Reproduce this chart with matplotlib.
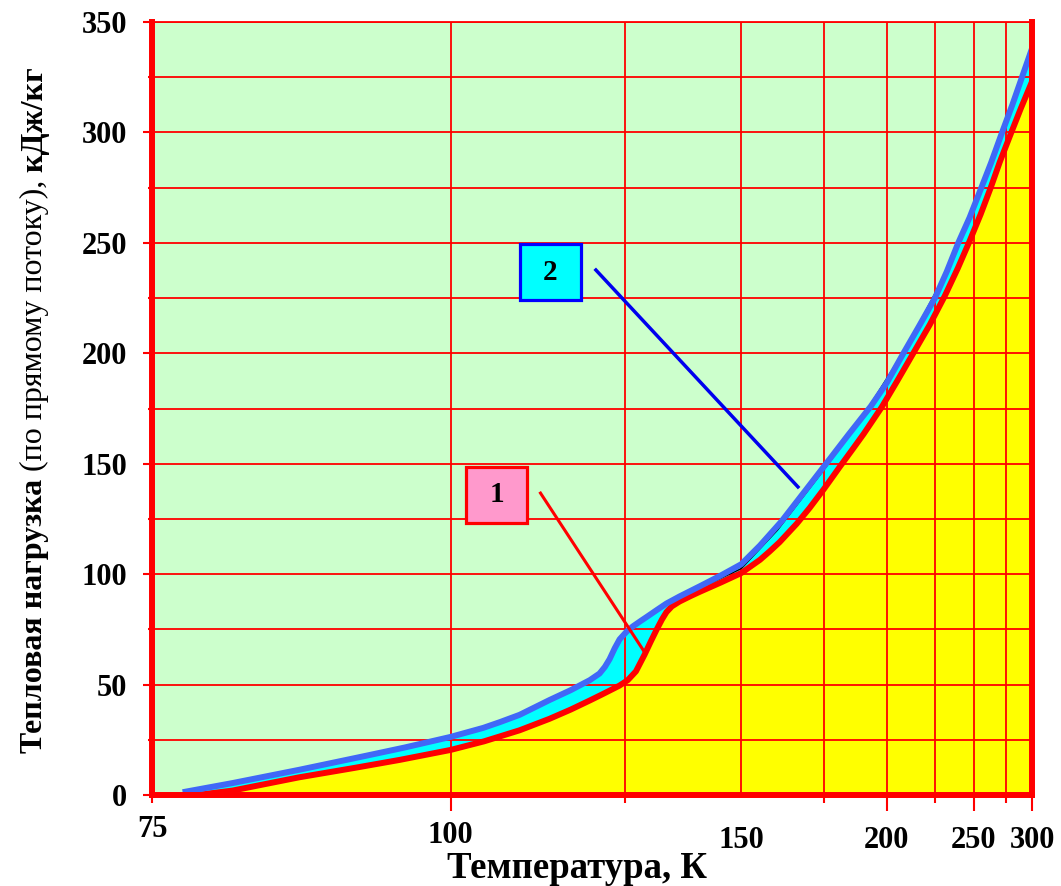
import numpy as np
import matplotlib
matplotlib.use('Agg')
import matplotlib.pyplot as plt
from matplotlib.patches import Rectangle
from matplotlib.transforms import IdentityTransform

# data: temperature (K) vs heat load (kJ/kg)
# curve 1 (red)
T_red = [77.5, 80, 85.2, 90, 94.5, 100, 104, 108.6, 112.8, 116, 119, 121, 124,
         125.5, 127, 128.6, 129.8, 130.9, 132, 132.9, 134, 135.6, 138, 140, 145,
         150, 155, 157.7, 160.6, 165.8, 170, 175, 180.6, 186, 190, 197.7, 205,
         213, 222, 230.8, 239, 246.8, 255, 262.7, 270, 278.9, 289, 300]
load_red = [0, 2, 8, 12.2, 15.9, 20.4, 24.3, 29.3, 34.5, 38.7, 42.8, 45.5, 49.5,
            52, 56, 63.5, 69.5, 74.7, 79.5, 82.8, 85.4, 87.6, 90.1, 92, 96.3,
            100.5, 106.5, 110.3, 114.5, 122.8, 130, 138.8, 148.6, 157.3, 163.5,
            175.5, 187.5, 200, 213, 226, 238.5, 250.5, 263, 275, 286.5, 298.5,
            311, 323]

# curve 2 (blue)
T_blue = [76.7, 80, 85.2, 91.2, 95, 100, 103.9, 106, 108.6, 112.8, 116, 119,
          120.6, 121.5, 122.3, 123.2, 124.05, 125.3, 126.4, 128, 129, 131, 132.9,
          135.6, 140, 145, 150, 155, 161.2, 168, 175.5, 184, 193, 200, 208, 216,
          224.9, 232, 239.3, 247, 255.5, 263, 272, 281, 290, 300]
load_blue = [1.5, 5.4, 11.4, 17.8, 21.5, 26.3, 30.4, 33, 36.3, 43, 47.5, 52,
             55, 58, 61.5, 66.5, 70.5, 74, 76.3, 79, 80.6, 83.8, 86.7,
             89.9, 94.5, 99.5, 104.5, 113, 124, 136.8, 149.8, 163.3, 176, 186.5,
             200, 212.2, 225, 237, 250, 261.5, 275, 286.3, 300, 312.5, 325, 338]

# thin black curve, mostly hidden under curve 2
T_black = [142, 150, 160, 175, 190, 210, 230, 250, 262]
load_black = [95.5, 102.5, 120, 147.5, 172, 203.5, 234.5, 265, 285]

# axis ticks
x_major = [100, 200, 250, 300]
x_minor = [74.5, 125, 150, 175, 225, 275]
x_minor_labels = ['75', '', '150', '', '', '']

# callouts: (T, load) of leader start / end
lead1 = ([111.5, 128.6], [136.7, 64.7])
lead2 = ([120.0, 166.2], [237.7, 139.5])

plt.rcParams['font.family'] = ['Liberation Serif', 'DejaVu Serif']
plt.rcParams['font.weight'] = 'bold'

W, H = 1061, 886
fig = plt.figure(figsize=(W / 100, H / 100), dpi=100)
ax = fig.add_axes([152 / W, 91 / H, 880 / W, 773 / H])
ax.set_facecolor('#CCFFCC')


def fwd(t):
    return -1.0 / np.asarray(t, dtype=float)


def back(u):
    return -1.0 / np.asarray(u, dtype=float)


ax.set_xscale('function', functions=(fwd, back))
ax.set_xlim(74.5, 300)
ax.set_ylim(0, 350)

# fills
ax.fill_between(T_red, 0, load_red, color='#FFFF00', lw=0, zorder=1)
ax.fill(np.r_[T_blue, T_red[::-1]], np.r_[load_blue, load_red[::-1]],
        color='#00FFFF', lw=0, zorder=1)

# grid
ax.set_axisbelow(False)
ax.grid(True, which='both', color='red', lw=1.3)

# curves
ax.plot(T_black, load_black, color='black', lw=1.0, zorder=3)
ax.plot(T_red, load_red, color='#FF0000', lw=4.3, zorder=4,
        solid_joinstyle='round')
ax.plot(T_blue, load_blue, color='#4068F8', lw=4.3, zorder=4,
        solid_joinstyle='round')

# leader lines
ax.plot(*lead1, color='#FF0000', lw=2.2, zorder=5)
ax.plot(*lead2, color='#0000EE', lw=2.5, zorder=5)

# number boxes
for (x0, y0), txt, fc, ec in [((0.357, 0.352), '1', '#FF99CC', '#FF0000'),
                              ((0.418, 0.640), '2', '#00FFFF', '#0000FF')]:
    ax.add_patch(Rectangle((x0, y0), 0.0693, 0.0724, transform=ax.transAxes,
                           facecolor=fc, edgecolor=ec, lw=2.3, zorder=6))
    ax.text(x0 + 0.0693 / 2, y0 + 0.0724 / 2, txt, transform=ax.transAxes,
            ha='center', va='center', fontsize=21, zorder=7)

# spines
for side in ['left', 'bottom', 'right']:
    ax.spines[side].set_linewidth(4.3)
ax.spines['top'].set_linewidth(1.3)
for s in ax.spines.values():
    s.set_color('red')
    s.set_zorder(8)

# ticks
ax.set_xticks(x_major, labels=[str(v) for v in x_major])
ax.set_xticks(x_minor, labels=x_minor_labels, minor=True)
ax.set_yticks(range(0, 351, 50))
ax.set_yticks(range(25, 350, 50), minor=True)
ax.tick_params(which='both', color='red', width=1.5, labelsize=22)
ax.tick_params(axis='x', which='major', length=11.5, pad=11)
ax.tick_params(axis='x', which='minor', length=6)
ax.tick_params(axis='y', which='major', length=6.5, pad=11.5)
ax.tick_params(axis='y', which='minor', length=3)

for tk in ax.xaxis.get_major_ticks():
    if abs(tk.get_loc() - 100) < 1:
        tk.set_pad(7)
for tk in ax.xaxis.get_minor_ticks():
    loc = tk.get_loc()
    if abs(loc - 150) < 1:
        tk.tick1line.set_visible(False)
        tk.set_pad(16.5)
    elif loc < 80:
        tk.set_pad(8.5)

# axis titles
fig.text(577 / W, (H - 878) / H, 'Температура, К', ha='center', va='baseline',
         fontsize=26.5)

parts = [('Тепловая нагрузка ', 'bold'), ('(по прямому потоку), ', 'normal'),
         ('кДж/кг', 'bold')]
renderer = fig.canvas.get_renderer()
target = 688.0
size = 24.0
for _ in range(2):
    total = 0.0
    for s, wgt in parts:
        t = fig.text(0, 0, s, fontsize=size, fontweight=wgt, rotation=90,
                     rotation_mode='anchor', ha='left', va='baseline')
        total += t.get_window_extent(renderer).height
        t.remove()
    size = size * target / total
y = (H - 753)
for s, wgt in parts:
    t = fig.text(42, y, s, fontsize=size, fontweight=wgt, rotation=90,
                 rotation_mode='anchor', ha='left', va='baseline',
                 transform=IdentityTransform())
    y += t.get_window_extent(renderer).height

fig.savefig('out.png', dpi=100, facecolor='white')
